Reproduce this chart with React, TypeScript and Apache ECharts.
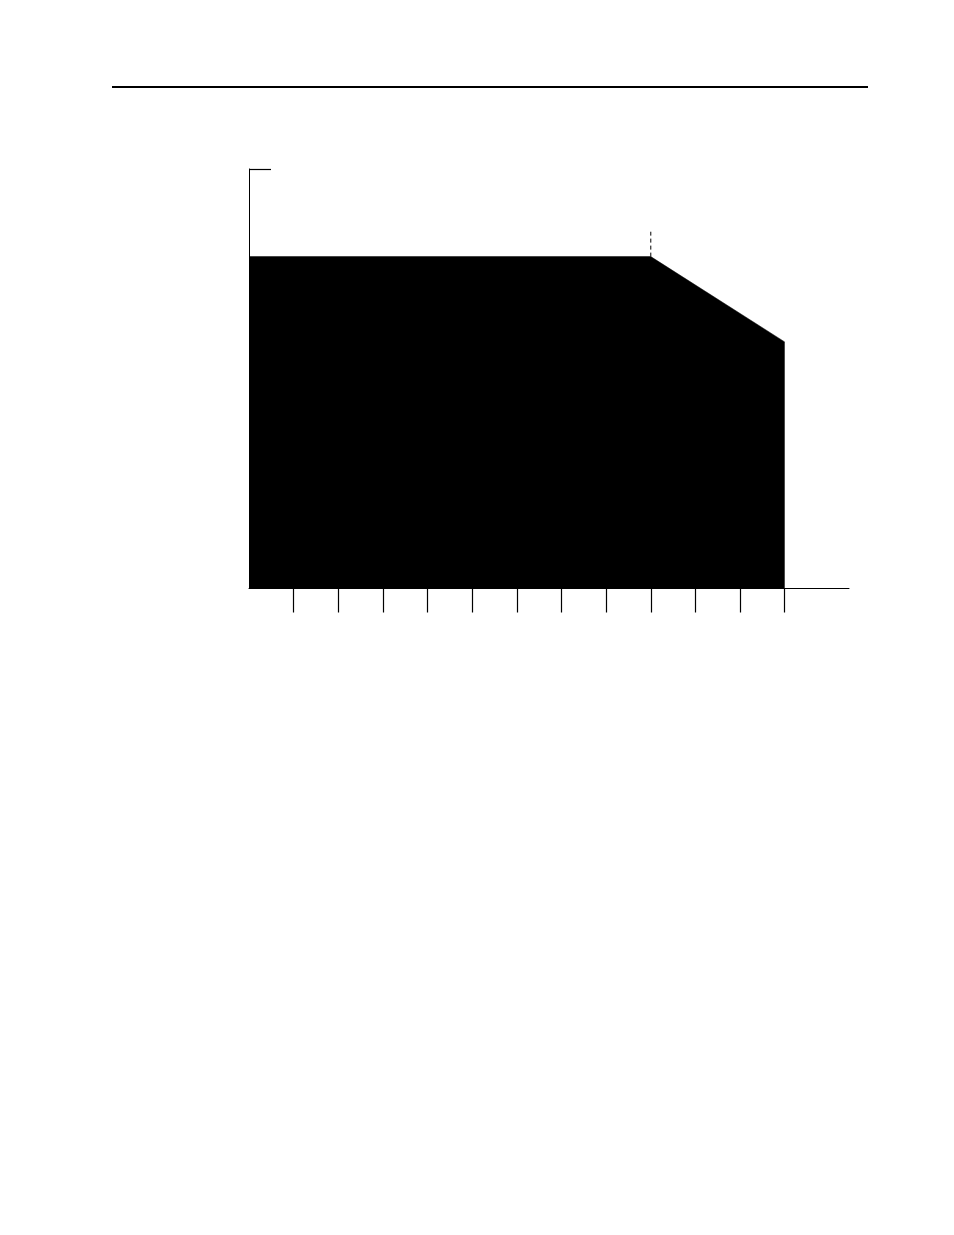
import React, { useEffect, useRef } from "react";
import * as echarts from "echarts";

// x: time-like index, y: percent of rated value
const curveX = [0, 9, 12];
const curveY = [100, 100, 74.3];
const markerX = [9, 9];
const markerY = [100, 107.5];
const xTicks = [1, 2, 3, 4, 5, 6, 7, 8, 9, 10, 11, 12];
const xMax = 13.44;
const yMax = 126.4;

export default function App() {
  const ref = useRef<HTMLDivElement>(null);
  useEffect(() => {
    const chart = echarts.init(ref.current!, null, { renderer: "svg" });
    chart.setOption({
      animation: false,
      backgroundColor: "#ffffff",
      grid: { left: 249, top: 169, width: 600, height: 419.5 },
      xAxis: {
        type: "value",
        min: 0,
        max: xMax,
        splitLine: { show: false },
        axisLabel: { show: false },
        axisLine: { show: true, lineStyle: { color: "#000", width: 1 } },
        axisTick: {
          show: true,
          customValues: xTicks,
          length: 24,
          lineStyle: { color: "#000", width: 1.2 },
        },
      },
      yAxis: {
        type: "value",
        min: 0,
        max: yMax,
        splitLine: { show: false },
        axisLabel: { show: false },
        axisLine: { show: true, lineStyle: { color: "#000", width: 1 } },
        axisTick: {
          show: true,
          customValues: [yMax],
          inside: true,
          length: 22,
          lineStyle: { color: "#000", width: 1.2 },
        },
      },
      graphic: [
        {
          type: "line",
          shape: { x1: 112, y1: 87, x2: 868, y2: 87 },
          style: { stroke: "#000", lineWidth: 2 },
        },
      ],
      series: [
        {
          type: "line",
          data: curveX.map((x, i) => [x, curveY[i]]),
          symbol: "none",
          lineStyle: { color: "#000", width: 0.5 },
          areaStyle: { color: "#000", opacity: 1 },
        },
        {
          type: "line",
          data: markerX.map((x, i) => [x, markerY[i]]),
          symbol: "none",
          lineStyle: { color: "#000", width: 1, type: [4, 3] },
        },
      ],
    });
    return () => chart.dispose();
  }, []);
  return (
    <div
      ref={ref}
      style={{ position: "absolute", left: 0, top: 0, width: 954, height: 1235 }}
    />
  );
}
